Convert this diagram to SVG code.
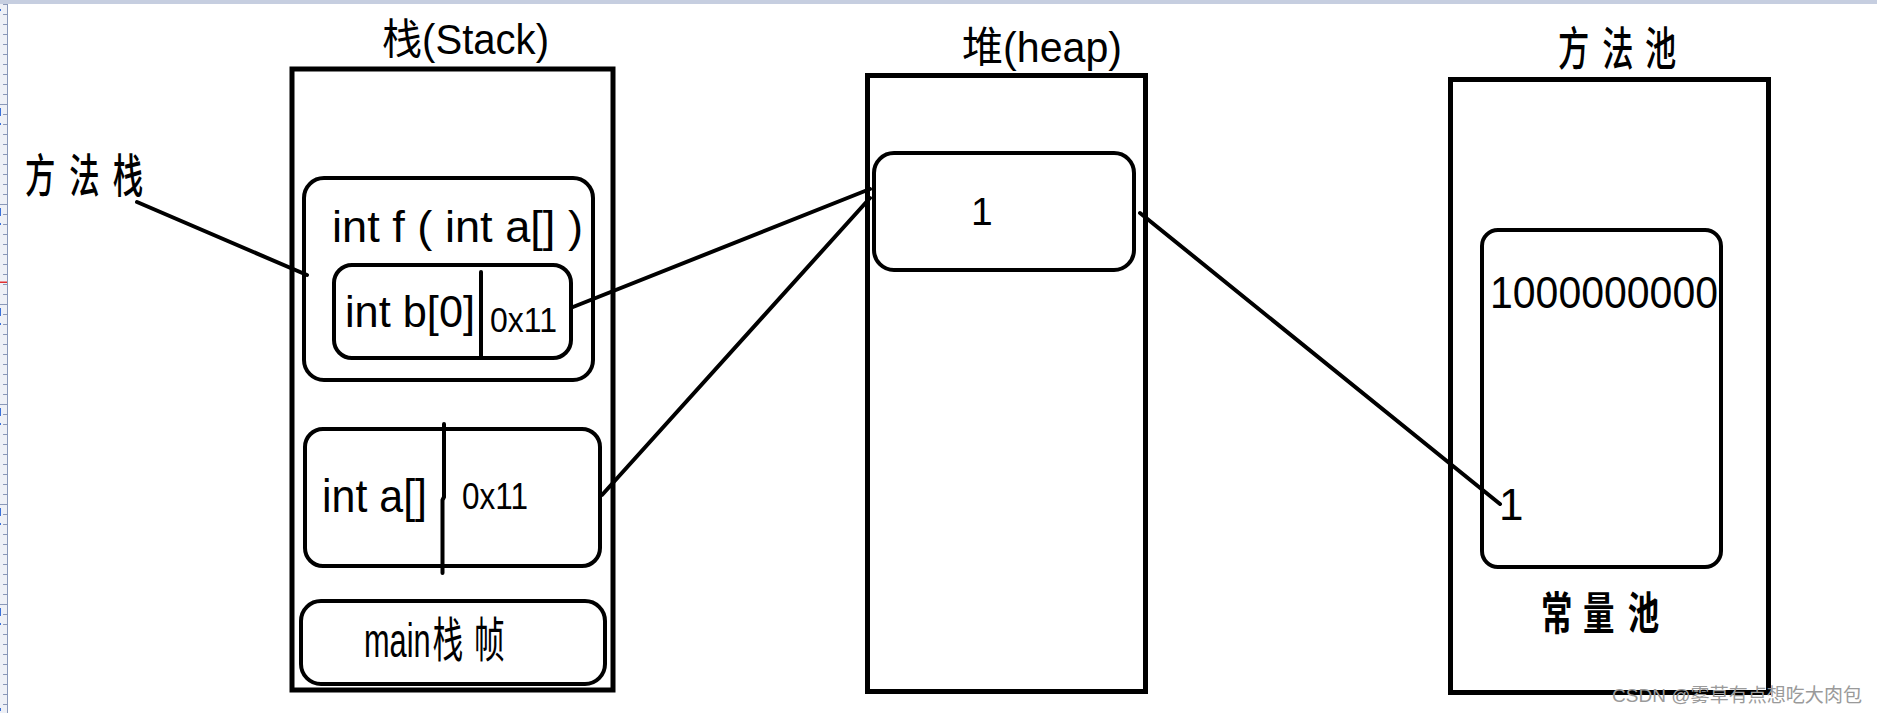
<svg xmlns="http://www.w3.org/2000/svg" width="1877" height="713" viewBox="0 0 1877 713">
<defs>
<style>
.box{fill:none;stroke:#000;stroke-width:5}
.rbox{fill:none;stroke:#000;stroke-width:4}
.ln{stroke:#000;stroke-width:4;stroke-linecap:round;fill:none}
.t{font-family:"Liberation Sans","Noto Sans CJK SC",sans-serif;fill:#000}
.cjk{font-family:"Noto Sans CJK SC","Liberation Sans",sans-serif;fill:#000}
.wm{font-family:"Liberation Sans","Noto Sans CJK SC",sans-serif;fill:#9a9a9a;font-size:19px}
</style>
<pattern id="ticks" x="0" y="4" width="8" height="10" patternUnits="userSpaceOnUse"><rect x="3" y="0" width="4" height="1" fill="#8a98b8"/></pattern>
</defs>
<rect width="1877" height="713" fill="#fff"/>
<g id="chrome">
<rect x="0" y="0" width="1877" height="4" fill="#c6cee0"/>
<rect x="0" y="4" width="7" height="709" fill="#eef0f6"/>
<rect x="0" y="4" width="7" height="709" fill="url(#ticks)"/>
<line x1="7.5" y1="4" x2="7.5" y2="713" stroke="#8a98b8" stroke-width="1"/>
<g fill="#8a98b8"><rect x="0" y="104" width="7" height="1"/><rect x="0" y="204" width="7" height="1"/><rect x="0" y="304" width="7" height="1"/><rect x="0" y="404" width="7" height="1"/><rect x="0" y="504" width="7" height="1"/><rect x="0" y="604" width="7" height="1"/></g>
<g fill="#3a6fd8"><rect x="0" y="9" width="1" height="2"/><rect x="0" y="108" width="1" height="8"/><rect x="0" y="123" width="1" height="2"/><rect x="0" y="208" width="1" height="8"/><rect x="0" y="223" width="1" height="2"/><rect x="0" y="308" width="1" height="8"/><rect x="0" y="323" width="1" height="2"/><rect x="0" y="408" width="1" height="8"/><rect x="0" y="423" width="1" height="2"/><rect x="0" y="508" width="1" height="8"/><rect x="0" y="523" width="1" height="2"/><rect x="0" y="608" width="1" height="8"/><rect x="0" y="623" width="1" height="2"/><rect x="0" y="708" width="1" height="3"/></g>
<rect x="0" y="281.5" width="7" height="1.5" fill="#e03030"/>
</g>

<g id="stack">
<rect class="box" x="292" y="69" width="321" height="621"/>
<text class="t" x="382" y="54" font-size="42" textLength="167" lengthAdjust="spacingAndGlyphs">栈(Stack)</text>
</g>

<g id="method-stack-label">
<text class="cjk" font-size="46" font-weight="500" transform="translate(25,192) scale(0.66,1)"><tspan x="0">方</tspan><tspan x="67">法</tspan><tspan x="133">栈</tspan></text>
</g>

<g id="frame-f">
<rect class="rbox" x="304" y="178" width="289" height="202" rx="20"/>
<text class="t" x="332" y="242" font-size="44" textLength="251" lengthAdjust="spacingAndGlyphs">int f ( int a[] )</text>
</g>

<g id="var-b">
<rect class="rbox" x="334" y="265" width="237" height="93" rx="18"/>
<line class="ln" x1="481" y1="272" x2="481" y2="358"/>
<text class="t" x="345" y="327" font-size="44" textLength="130" lengthAdjust="spacingAndGlyphs">int b[0]</text>
<text class="t" x="490" y="332" font-size="35" textLength="67" lengthAdjust="spacingAndGlyphs">0x11</text>
</g>

<g id="var-a">
<rect class="rbox" x="305" y="429" width="295" height="137" rx="18"/>
<path class="ln" d="M444 424 L444 497 L442.5 500 L442.5 573"/>
<text class="t" x="322" y="512" font-size="46" textLength="105" lengthAdjust="spacingAndGlyphs">int a[]</text>
<text class="t" x="462" y="509" font-size="36" textLength="66" lengthAdjust="spacingAndGlyphs">0x11</text>
</g>

<g id="main-frame">
<rect class="rbox" x="301" y="601" width="304" height="83" rx="20"/>
<text class="t" font-size="48" transform="translate(364,657) scale(0.64,1)"><tspan x="0">main</tspan><tspan x="107">栈</tspan><tspan x="172">帧</tspan></text>
</g>

<g id="heap">
<rect class="box" x="867.5" y="75.5" width="278" height="616"/>
<text class="t" x="962" y="62" font-size="42" textLength="160" lengthAdjust="spacingAndGlyphs">堆(heap)</text>
</g>

<g id="heap-object">
<rect class="rbox" x="874" y="153" width="260" height="117" rx="20"/>
<text class="t" x="971" y="225" font-size="39">1</text>
</g>

<g id="method-pool">
<rect class="box" x="1450.5" y="79.5" width="318" height="613"/>
<text class="cjk" font-size="46" font-weight="500" transform="translate(1558,65) scale(0.68,1)"><tspan x="0">方</tspan><tspan x="65">法</tspan><tspan x="128">池</tspan></text>
<text class="cjk" font-size="45" font-weight="bold" transform="translate(1541,630) scale(0.7,1)"><tspan x="0">常</tspan><tspan x="60">量</tspan><tspan x="124">池</tspan></text>
</g>

<g id="constant-pool">
<rect class="rbox" x="1482" y="230" width="239" height="337" rx="16"/>
<text class="t" x="1490" y="308" font-size="44" textLength="228" lengthAdjust="spacingAndGlyphs">1000000000</text>
<text class="t" x="1499" y="520" font-size="44">1</text>
</g>

<g id="connectors">
<line class="ln" x1="137" y1="202" x2="307" y2="275"/>
<line class="ln" x1="573" y1="307" x2="870" y2="189"/>
<line class="ln" x1="602" y1="495" x2="870" y2="198"/>
<line class="ln" x1="1140" y1="213" x2="1500" y2="504"/>
</g>

<text class="wm" x="1612" y="702" textLength="250" lengthAdjust="spacingAndGlyphs">CSDN @雾草有点想吃大肉包</text>
</svg>
